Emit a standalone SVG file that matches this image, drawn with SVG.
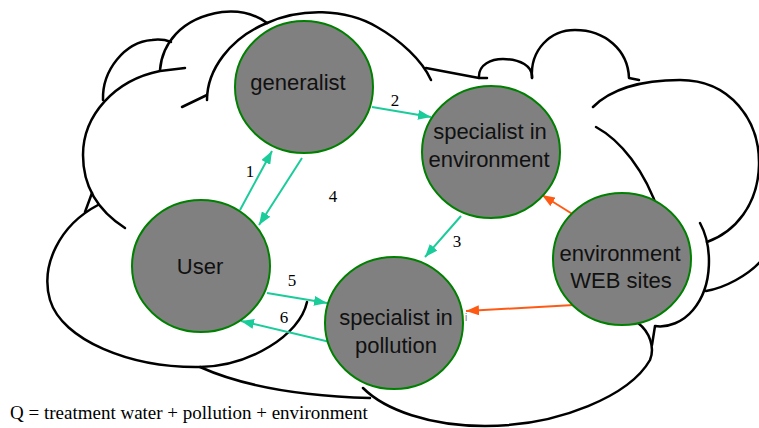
<svg xmlns="http://www.w3.org/2000/svg" width="759" height="428" viewBox="0 0 759 428">
<style>
.cloud{fill:none;stroke:#000;stroke-width:2.5;stroke-linecap:round;stroke-linejoin:round}
.node{fill:#808080;stroke:#008000;stroke-width:2}
.nt{font-family:"Liberation Sans",Arial,sans-serif;font-size:22px;fill:#111;text-anchor:middle}
.teal{stroke:#1ACC9A;stroke-width:2;fill:none;marker-end:url(#ah-teal)}
.orange{stroke:#FF5A14;stroke-width:2;fill:none;marker-end:url(#ah-orange)}
.lbl{font-family:"Liberation Serif","Times New Roman",serif;font-size:17px;fill:#000;text-anchor:middle}
</style>
<defs>
<marker id="ah-teal" markerUnits="userSpaceOnUse" markerWidth="13" markerHeight="10" refX="13" refY="5" orient="auto"><path d="M0,0 L13,5 L0,10 z" fill="#1ACC9A"/></marker>
<marker id="ah-orange" markerUnits="userSpaceOnUse" markerWidth="13" markerHeight="10" refX="13" refY="5" orient="auto"><path d="M0,0 L13,5 L0,10 z" fill="#FF5A14"/></marker>
</defs>
<rect width="759" height="428" fill="#fff"/>
<g id="cloud" class="cloud">
<path d="M160,70 C162,45 180,18 222,12 C240,10 255,14 267,23"/>
<path d="M103,100 C102,70 125,42 152,40 C160,39 166,40 171,42"/>
<path d="M185,68 L160,71 C115,80 83,115 83,155 C83,190 100,212 125,228"/>
<path d="M98,205 C60,225 40,265 50,300 C62,340 130,368 200,367 C250,366 300,335 307,302"/>
<path d="M92,193 L85,212"/>
<path d="M207,100 C207,70 230,38 267,23"/>
<path d="M182,107 L207,95"/>
<path d="M267,23 C300,8 345,8 377,27 C400,40 422,60 431,80"/>
<path d="M426,68 L479,78 L487,78"/>
<path d="M479,78 C478,64 492,59 503,59 C520,59 533,66 532,78"/>
<path d="M532,78 C530,50 550,30 575,30 C605,30 628,50 629,78 L639,80"/>
<path d="M593,107 C610,90 640,80 680,80 C730,80 760,120 759,165 C758,205 735,232 707,242"/>
<path d="M596,127 C620,140 645,170 659,213"/>
<path d="M700,223 C712,245 714,285 693,310 C683,322 668,328 655,326 L652,345"/>
<path d="M706,291 C725,288 748,275 760,262"/>
<path d="M200,367 C240,385 300,396 370,398"/>
<path d="M363,388 C385,410 430,426 485,426 C560,426 630,395 650,360 C655,348 650,332 638,323"/>
</g>
<g id="connectors">
<path class="teal" d="M240,210 L272,151"/>
<path class="teal" d="M302,158 L259,225"/>
<path class="teal" d="M372,107 L431,117"/>
<path class="teal" d="M461,216 L425,257"/>
<path class="teal" d="M267,293 L327,303"/>
<path class="teal" d="M330,342 L241,321"/>
<path class="orange" d="M574,215 L542,195"/>
<path class="orange" d="M574,305 L466,311"/>
<text class="lbl" x="250" y="177">1</text>
<text class="lbl" x="395" y="106">2</text>
<text class="lbl" x="457" y="247">3</text>
<text class="lbl" x="333" y="202">4</text>
<text class="lbl" x="292" y="286">5</text>
<text class="lbl" x="284" y="323">6</text>
</g>
<g id="generalist">
<ellipse class="node" cx="304" cy="87" rx="69" ry="66"/>
<text class="nt" x="298" y="90">generalist</text>
</g>
<g id="specialist-environment">
<ellipse class="node" cx="491" cy="152" rx="69" ry="66"/>
<text class="nt" x="490" y="139">specialist in</text>
<text class="nt" x="489" y="167">environment</text>
</g>
<g id="user">
<ellipse class="node" cx="201" cy="266" rx="69" ry="66"/>
<text class="nt" x="200" y="274">User</text>
</g>
<g id="specialist-pollution">
<ellipse class="node" cx="394" cy="323" rx="69" ry="66"/>
<text class="nt" x="396" y="325">specialist in</text>
<text class="nt" x="396" y="353">pollution</text>
</g>
<g id="web-sites">
<ellipse class="node" cx="622" cy="259" rx="69" ry="66"/>
<text class="nt" x="620" y="261">environment</text>
<text class="nt" x="621" y="288">WEB sites</text>
</g>
<text x="465" y="321" font-family="Liberation Sans,Arial,sans-serif" font-size="10" fill="#777">i</text>
<text x="10" y="419" font-family="Liberation Serif,'Times New Roman',serif" font-size="19" fill="#000">Q = treatment water + pollution + environment</text>
</svg>
